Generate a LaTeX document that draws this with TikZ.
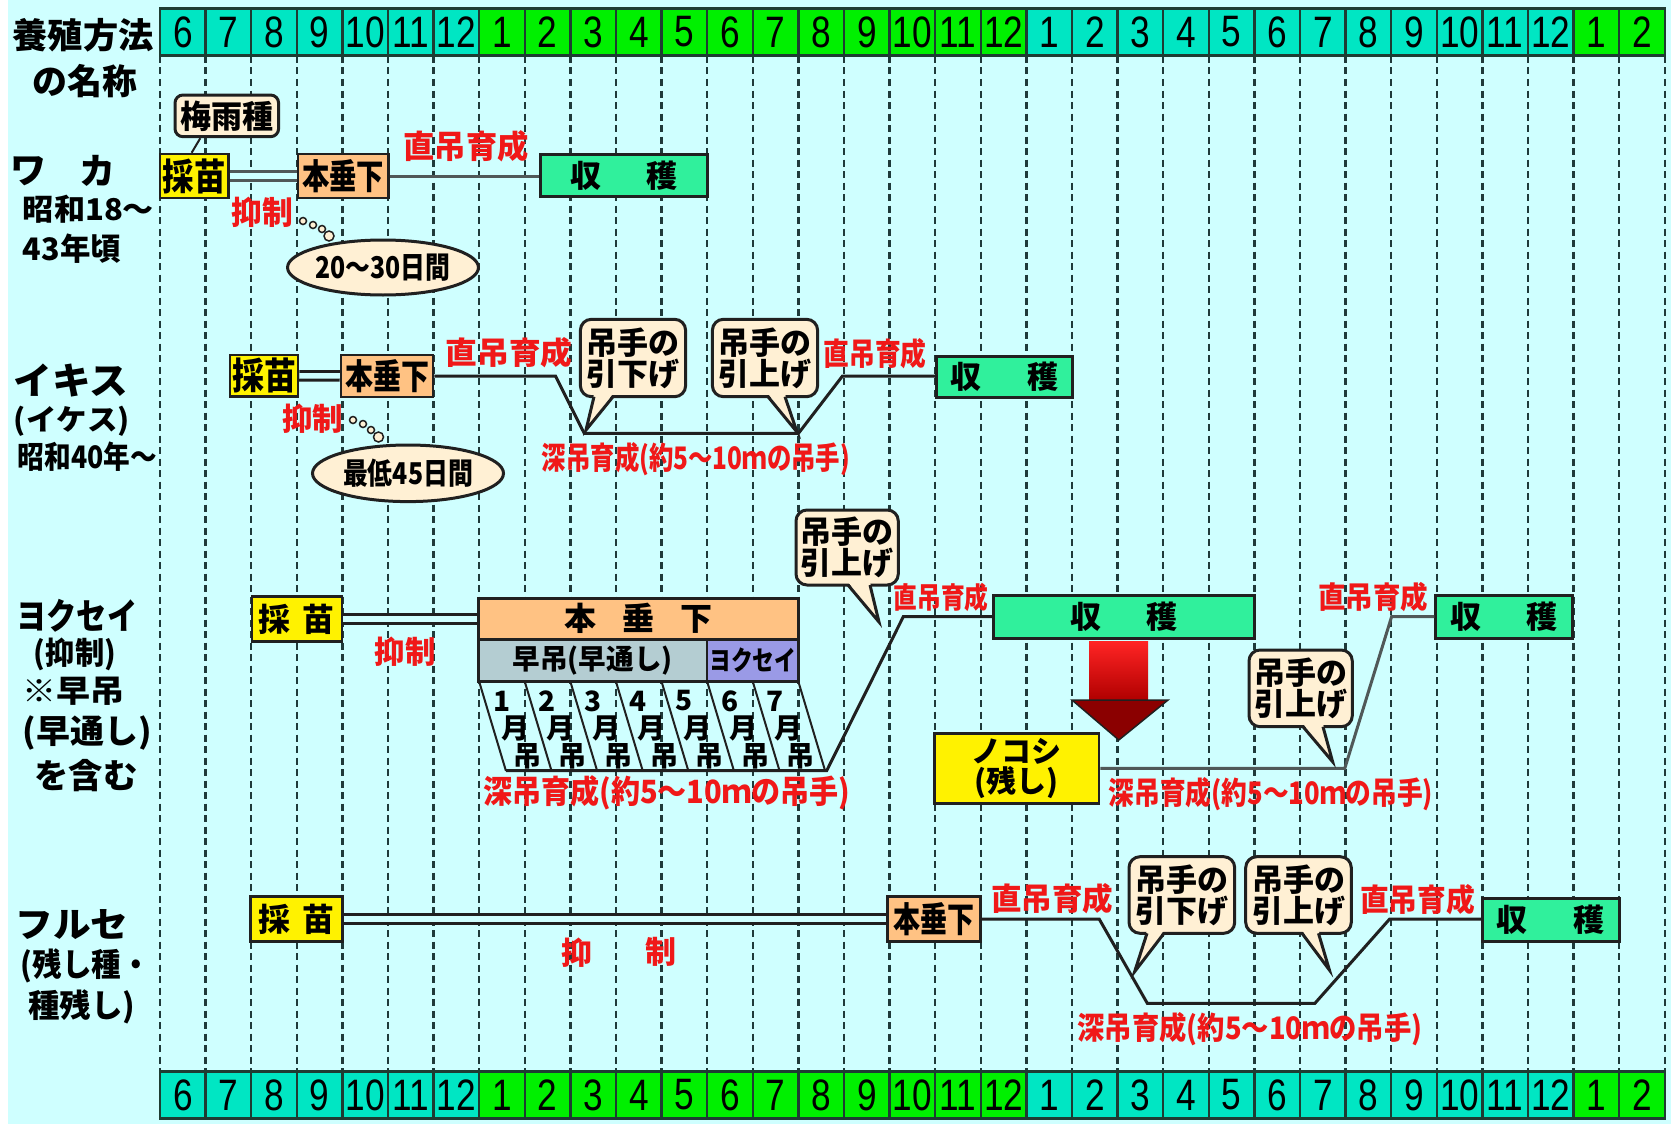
\documentclass[tikz,border=0pt]{standalone}
\usepackage{fontspec}
\usepackage{graphicx}
\newfontfamily\jp{Noto Sans CJK JP}
\newfontfamily\numf{Liberation Sans}
\usetikzlibrary{calc,shapes.geometric}
\definecolor{bgc}{HTML}{CFFFFF}
\definecolor{tq}{HTML}{00E6C3}
\definecolor{gr}{HTML}{00F000}
\definecolor{yel}{HTML}{FFF200}
\definecolor{ora}{HTML}{FFC283}
\definecolor{har}{HTML}{30F09C}
\definecolor{bei}{HTML}{FFF0D4}
\definecolor{rtx}{HTML}{F01818}
\definecolor{hay}{HTML}{B4CDD2}
\definecolor{yok}{HTML}{9A9AE6}
\definecolor{ln}{HTML}{202020}
\definecolor{lngr}{HTML}{505858}
\definecolor{grd}{HTML}{1F3A3A}
\definecolor{hb}{HTML}{1E3C32}
\definecolor{arrtop}{HTML}{FF2424}
\definecolor{arrbot}{HTML}{B00000}
\definecolor{arrhead}{HTML}{8B0000}
\newcommand\F[1]{\fontsize{#1}{#1}\selectfont}
\newcommand\fw[2]{\resizebox{#1pt}{\height}{#2}}
\newcommand\bx[7]{\node[#2, minimum width={(#5)-(#3)}, minimum height={(#6)-(#4)}] (#1) at ({((#3)+(#5))/2},{((#4)+(#6))/2}) {#7};}
\newcommand\callout[9]{%
  \bx{#1}{callout}{#2}{#3}{#4}{#5}{#9}
  \coordinate (#1tip) at (#8);
  \fill[bei] (#6,{(#5)-3}) -- (#1tip) -- (#7,{(#5)-3}) -- cycle;
  \draw[ln, line width=3pt, line join=miter] (#6,#5) -- (#1tip) -- (#7,#5);
}
\tikzset{
  hcell/.style={draw=hb, line width=2.5pt, minimum width=45.6pt, minimum height=47pt, inner sep=0pt, font=\numf\F{44}},
  box/.style={draw=ln, line width=2.5pt, inner sep=0pt, font=\jp\bfseries},
  lbl/.style={inner sep=0pt, font=\jp\bfseries},
  red/.style={lbl, text=rtx},
  callout/.style={draw=ln, line width=3pt, fill=bei, rounded corners=11pt, inner sep=0pt, align=center, font=\jp\bfseries\F{31}},
  ell/.style={ellipse, draw=ln, line width=3pt, fill=bei, inner sep=0pt, font=\jp\bfseries\F{30}},
  lnk/.style={draw=ln, line width=3pt},
  dbl/.style={draw=ln, line width=3pt, double=bgc, double distance=5.5pt},
  gridln/.style={draw=grd, line width=2.4pt, dash pattern=on 7pt off 4.5pt},
  bub/.style={draw=ln, line width=1.5pt, fill=bei},
  strip/.style={draw=ln, line width=2pt},
  snum/.style={inner sep=0pt, font=\jp\bfseries\F{28}}
}
\begin{document}
\begin{tikzpicture}[x=1pt,y=-1pt]
\fill[white] (0,0) rectangle (1671,1124);
\fill[bgc] (8,0) rectangle (1671,1124);
\useasboundingbox (0,0) rectangle (1671,1124);
% grid
\foreach \i in {0,...,33} \draw[gridln] ({160+45.6*\i},56) -- ({160+45.6*\i},1072);
% header rows
\foreach \i/\m/\c in {0/6/tq,1/7/tq,2/8/tq,3/9/tq,4/10/tq,5/11/tq,6/12/tq,7/1/gr,8/2/gr,9/3/gr,10/4/gr,11/5/gr,12/6/gr,13/7/gr,14/8/gr,15/9/gr,16/10/gr,17/11/gr,18/12/gr,19/1/tq,20/2/tq,21/3/tq,22/4/tq,23/5/tq,24/6/tq,25/7/tq,26/8/tq,27/9/tq,28/10/tq,29/11/tq,30/12/tq,31/1/gr,32/2/gr}{
  \node[hcell, fill=\c] (t\i) at ({182.8+45.6*\i},32) {\scalebox{0.8}[1]{\m}};
  \node[hcell, fill=\c] (b\i) at ({182.8+45.6*\i},1095) {\scalebox{0.8}[1]{\m}};
}
% left labels
\node[lbl,font=\jp\bfseries\F{35}] (tt1) at (83,35) {\fw{141}{養殖方法}};
\node[lbl,font=\jp\bfseries\F{35}] (tt2) at (85,81) {\fw{105}{の名称}};
\node[lbl,font=\jp\bfseries\F{36}] (wa1) at (28,171) {ワ};
\node[lbl,font=\jp\bfseries\F{36}] (wa2) at (97,171) {カ};
\node[lbl,font=\jp\bfseries\F{30}] (wa3) at (88.5,209.5) {\fw{131}{昭和18～}};
\node[lbl,font=\jp\bfseries\F{31}] (wa4) at (72,249) {\fw{98}{43年頃}};
\node[lbl,font=\jp\bfseries\F{37}] (ik1) at (71,381) {\fw{115}{イキス}};
\node[lbl,font=\jp\bfseries\F{29}] (ik2) at (72,421.5) {\fw{116}{(イケス)}};
\node[lbl,font=\jp\bfseries\F{31}] (ik3) at (87.5,456.7) {\fw{139}{昭和40年～}};
\node[lbl,font=\jp\bfseries\F{36}] (yo1) at (77,616) {\fw{121}{ヨクセイ}};
\node[lbl,font=\jp\bfseries\F{31}] (yo2) at (75,654) {\fw{82}{(抑制)}};
\node[lbl,font=\jp\bfseries\F{31}] (yo3) at (74,691.7) {\fw{102}{※早吊}};
\node[lbl,font=\jp\bfseries\F{33}] (yo4) at (87.5,733) {\fw{129}{(早通し)}};
\node[lbl,font=\jp\bfseries\F{34}] (yo5) at (86,776) {\fw{103}{を含む}};
\node[lbl,font=\jp\bfseries\F{35}] (fu1) at (72,925) {\fw{113}{フルセ}};
\node[lbl,font=\jp\bfseries\F{32}] (fu2) at (86,966) {\fw{130}{(残し種・}};
\node[lbl,font=\jp\bfseries\F{32}] (fu3) at (82,1006.7) {\fw{107}{種残し)}};
% ===== Row A : waka
\bx{ume}{box,fill=bei,rounded corners=8pt,line width=3pt,font=\jp\bfseries\F{32}}{175}{95}{278.6}{136.7}{\fw{93}{梅雨種}}
\bx{saiA}{box,fill=yel,font=\jp\bfseries\F{37}}{160}{154}{228.6}{198}{\fw{63}{採苗}}
\bx{honA}{box,fill=ora,font=\jp\bfseries\F{35}}{298}{154}{388.6}{198}{\fw{82}{本垂下}}
\bx{shuA}{box,fill=har,line width=3pt,font=\jp\bfseries\F{31}}{540}{154}{707.2}{196.7}{収\hspace{45pt}穫}
\draw[dbl, draw=lngr] (saiA) -- (honA);
\draw[lnk, draw=lngr] (honA.east) -- (honA.east -| shuA.west);
\draw[draw=ln, line width=2pt] ($(ume.south west)+(26.8,0)$) -- ($(saiA.north west)+(32.9,0)$);
\node[ell, minimum width=188pt, minimum height=55pt] (elA) at (383,267.5) {\fw{135}{20～30日間}};
\foreach \x/\y/\r in {303/221/3.5, 313/225/3.5, 322/229/3.5, 329/236/5} \draw[bub] (\x,\y) circle (\r);
\node[red,font=\jp\bfseries\F{32}] (chA) at (466,146) {\fw{125}{直吊育成}};
\node[red,font=\jp\bfseries\F{32}] (yoA) at (262,212.5) {\fw{61.5}{抑制}};
% ===== Row B : ikisu
\bx{saiB}{box,fill=yel,font=\jp\bfseries\F{37}}{230}{355}{298}{396.7}{\fw{64}{採苗}}
\bx{honB}{box,fill=ora,font=\jp\bfseries\F{35}}{341}{355}{433}{397}{\fw{84}{本垂下}}
\bx{shuB}{box,fill=har,line width=3pt,font=\jp\bfseries\F{31}}{936.3}{356}{1072}{397.3}{収\hspace{46pt}穫}
\draw[dbl] (saiB) -- (honB);
\coordinate (b1) at (555.5,376);
\coordinate (b2) at (584.2,433.3);
\coordinate (b3) at (798.5,433.3);
\coordinate (b4) at (842.5,376);
\draw[lnk] (honB.east) -- (b1) -- (b2) -- (b3) -- (b4) -- (b4 -| shuB.west);
\callout{cbB1}{580.4}{319.3}{685.6}{396.7}{594}{613}{586,430}{吊手の\\引下げ}
\callout{cbB2}{712.4}{319.3}{817.6}{396.7}{768}{785}{797,432}{吊手の\\引上げ}
\node[ell, minimum width=191pt, minimum height=56.6pt] (elB) at (408,473.3) {\fw{130}{最低45日間}};
\foreach \x/\y/\r in {353/420/3.5, 363/424/3.5, 371/430/3.5, 378.5/437/5} \draw[bub] (\x,\y) circle (\r);
\node[red,font=\jp\bfseries\F{31}] (chB1) at (509,353) {\fw{127}{直吊育成}};
\node[red,font=\jp\bfseries\F{31}] (chB2) at (875,354) {\fw{103}{直吊育成}};
\node[red,font=\jp\bfseries\F{31}] (yoB) at (312.5,419) {\fw{61}{抑制}};
\node[red,font=\jp\bfseries\F{31}] (fkB) at (696,459) {\fw{308}{深吊育成(約5～10ｍの吊手)}};
% ===== Row C : yokusei
\bx{saiC}{box,fill=yel,font=\jp\bfseries\F{32}}{251.8}{596.7}{341.8}{641.7}{採\hspace{12pt}苗}
\bx{honC}{box,fill=ora,font=\jp\bfseries\F{32}}{478.3}{598.3}{798.3}{639.3}{本\hspace{26pt}垂\hspace{26pt}下}
\bx{hayC}{box,fill=hay,font=\jp\bfseries\F{28}}{478.3}{639.3}{707.2}{681.7}{\fw{160}{早吊(早通し)}}
\bx{yokC}{box,fill=yok,font=\jp\bfseries\F{27}}{707.2}{639.3}{798.3}{681.7}{\fw{87}{ヨクセイ}}
\draw[dbl] (saiC) -- (saiC -| honC.west);
\foreach \k in {0,...,7} \draw[strip] ({479.2+45.6*\k},681.7) -- ({505.9+45.6*\k},770.7);
\foreach \k in {1,...,7}{
  \node[snum] (dg\k) at ({479.2+45.6*(\k-1)+22.5},701) {\k};
  \node[snum] (mo\k) at ({479.2+45.6*(\k-1)+35.8},728) {月};
  \node[snum] (tu\k) at ({479.2+45.6*(\k-1)+48},756) {吊};
}
\bx{shuC}{box,fill=har,line width=3pt,font=\jp\bfseries\F{31}}{993.4}{595}{1254.4}{638.3}{収\hspace{45pt}穫}
\coordinate (c0) at (505.9,770.7);
\coordinate (c1) at (826.7,770.7);
\coordinate (c2) at (903.3,616.7);
\draw[lnk] (c0) -- (c1) -- (c2) -- (c2 -| shuC.west);
\callout{cbC1}{796}{510}{898.3}{585}{848}{870}{879,622}{吊手の\\引上げ}
\node[red,font=\jp\bfseries\F{29}] (chC1) at (941,597) {\fw{95}{直吊育成}};
\node[red,font=\jp\bfseries\F{31}] (yoC) at (405,651.7) {\fw{61}{抑制}};
\node[red,font=\jp\bfseries\F{32}] (fkC1) at (666.7,793) {\fw{367}{深吊育成(約5～10ｍの吊手)}};
% arrow
\shade[top color=arrtop, bottom color=arrbot] (1089,641.7) rectangle (1148,700);
\draw[fill=arrhead, draw=ln, line width=1.5pt] (1072,700) -- (1168,700) -- (1118.8,740) -- cycle;
\bx{noko}{box,fill=yel,font=\jp\bfseries\F{30},align=center}{934.4}{733.3}{1099}{803.3}{ノコシ\\(残し)}
\bx{shuC2}{box,fill=har,line width=3pt,font=\jp\bfseries\F{31}}{1435.9}{595}{1572.6}{638.3}{収\hspace{45pt}穫}
\coordinate (n1) at (1344.8,768.3);
\coordinate (n2) at (1391.6,616.7);
\draw[lnk, draw=lngr] (noko.east) -- (n1) -- (n2) -- (n2 -| shuC2.west);
\callout{cbC2}{1249}{650}{1352.3}{726.7}{1303}{1323}{1332.6,761.7}{吊手の\\引上げ}
\node[red,font=\jp\bfseries\F{30}] (chC2) at (1373,597) {\fw{110}{直吊育成}};
\node[red,font=\jp\bfseries\F{31}] (fkC2) at (1271,794) {\fw{324.5}{深吊育成(約5～10ｍの吊手)}};
% ===== Row D : furuse
\bx{saiD}{box,fill=yel,font=\jp\bfseries\F{32}}{250.7}{896.7}{342.5}{941.7}{採\hspace{12pt}苗}
\bx{honD}{box,fill=ora,font=\jp\bfseries\F{35}}{887.5}{896.7}{980.5}{941.7}{\fw{81}{本垂下}}
\bx{shuD}{box,fill=har,line width=3pt,font=\jp\bfseries\F{31}}{1482.4}{898.3}{1619}{941.7}{収\hspace{46pt}穫}
\draw[dbl] (saiD) -- (honD);
\coordinate (f1) at (1099.3,919.2);
\coordinate (f2) at (1147.3,1003.3);
\coordinate (f3) at (1314.9,1003.3);
\coordinate (f4) at (1389.5,919.2);
\draw[lnk] (honD.east) -- (f1) -- (f2) -- (f3) -- (f4) -- (f4 -| shuD.west);
\callout{cbD1}{1129}{856.7}{1234.7}{933.3}{1147}{1164}{1134.6,971.7}{吊手の\\引下げ}
\callout{cbD2}{1245.7}{856.7}{1351.3}{933.3}{1302}{1318.5}{1329.4,970}{吊手の\\引上げ}
\node[red,font=\jp\bfseries\F{31}] (yoD1) at (577,953) {抑};
\node[red,font=\jp\bfseries\F{31}] (yoD2) at (661,952) {制};
\node[red,font=\jp\bfseries\F{31}] (chD1) at (1052,899) {\fw{122}{直吊育成}};
\node[red,font=\jp\bfseries\F{31}] (chD2) at (1417.7,900) {\fw{115}{直吊育成}};
\node[red,font=\jp\bfseries\F{31}] (fkD) at (1250,1029) {\fw{345}{深吊育成(約5～10ｍの吊手)}};
\end{tikzpicture}
\end{document}
